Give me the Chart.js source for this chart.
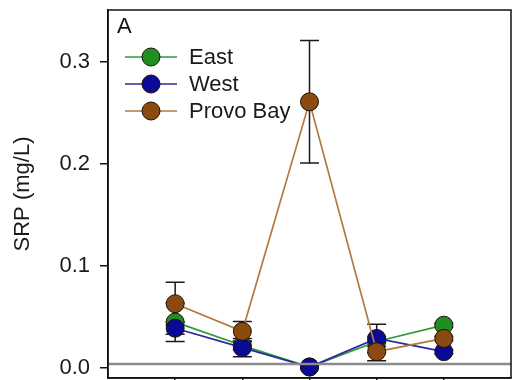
<!DOCTYPE html>
<html>
<head>
<meta charset="utf-8">
<script src="https://cdn.jsdelivr.net/npm/chart.js@4.4.0/dist/chart.umd.min.js"></script>
<style>
  html, body { margin: 0; padding: 0; background: #fff; }
  #wrap { width: 513px; height: 380px; }
</style>
</head>
<body>
<div id="wrap"><canvas id="c" width="513" height="380"></canvas></div>
<script>
// Sampling stations along the x axis (positions 1..5)
const stations = [1, 2, 3, 4, 5];

// Soluble reactive phosphorus, mean per station (mg/L)
const eastSRP  = [0.045, 0.022, 0.001, 0.026, 0.042];
const westSRP  = [0.039, 0.020, 0.001, 0.029, 0.016];
const provoSRP = [0.063, 0.036, 0.261, 0.016, 0.029];

// Standard errors (mg/L)
const eastErr  = [0.019, 0.004, 0.001, 0.005, 0.002];
const westErr  = [0.006, 0.009, 0.001, 0.014, 0.002];
const provoErr = [0.021, 0.0095, 0.060, 0.009, 0.002];

// Y axis tick values
const yTicks = [0.0, 0.1, 0.2, 0.3];

// Detection limit reference line (mg/L)
const detectionLimit = 0.004;

const seriesNames = ['East', 'West', 'Provo Bay'];
const FONT = '"Liberation Sans", Arial, sans-serif';

function pts(vals) { return stations.map((x, i) => ({ x: x, y: vals[i] })); }

const series = [
  { name: seriesNames[0], vals: eastSRP,  err: eastErr,  fill: '#1f8f22', line: '#2e9a35', order: 2 },
  { name: seriesNames[1], vals: westSRP,  err: westErr,  fill: '#0a0a96', line: '#2a2aa0', order: 1 },
  { name: seriesNames[2], vals: provoSRP, err: provoErr, fill: '#8a4a10', line: '#b07a40', order: 0 }
];

const datasets = series.map(s => ({
  label: s.name,
  data: pts(s.vals),
  borderColor: s.line,
  borderWidth: 1.7,
  pointBackgroundColor: s.fill,
  pointBorderColor: '#1a1208',
  pointBorderWidth: 1,
  pointRadius: 9,
  pointHoverRadius: 9,
  tension: 0,
  order: s.order,
  errs: s.err
}));

// Vertical error bars with caps, drawn beneath the markers
const errorBars = {
  id: 'errorBars',
  beforeDatasetsDraw(chart) {
    const { ctx, scales: { x, y } } = chart;
    ctx.save();
    ctx.strokeStyle = '#1a1a1a';
    ctx.lineWidth = 1.5;
    chart.data.datasets.forEach(ds => {
      ds.data.forEach((p, i) => {
        const e = ds.errs[i];
        const px = x.getPixelForValue(p.x);
        const yt = y.getPixelForValue(p.y + e);
        const yb = y.getPixelForValue(p.y - e);
        ctx.beginPath();
        ctx.moveTo(px, yt); ctx.lineTo(px, yb);
        ctx.moveTo(px - 9.5, yt); ctx.lineTo(px + 9.5, yt);
        ctx.moveTo(px - 9.5, yb); ctx.lineTo(px + 9.5, yb);
        ctx.stroke();
      });
    });
    ctx.restore();
  }
};

// Detection-limit line, frame, panel letter and legend
const overlay = {
  id: 'overlay',
  afterDatasetsDraw(chart) {
    const { ctx, chartArea: a, scales: { y } } = chart;
    ctx.save();
    const yl = y.getPixelForValue(detectionLimit);
    ctx.strokeStyle = '#8c8c8c';
    ctx.lineWidth = 2.5;
    ctx.beginPath();
    ctx.moveTo(a.left, yl); ctx.lineTo(a.right, yl);
    ctx.stroke();

    ctx.strokeStyle = '#111';
    ctx.lineWidth = 1.5;
    ctx.strokeRect(a.left, a.top, a.right - a.left, a.bottom - a.top);

    ctx.fillStyle = '#111';
    ctx.font = '22px ' + FONT;
    ctx.textAlign = 'left';
    ctx.textBaseline = 'middle';
    ctx.fillText('A', a.left + 9, a.top + 17);

    const rows = [a.top + 47, a.top + 74, a.top + 101];
    series.forEach((s, i) => {
      const yy = rows[i];
      ctx.strokeStyle = s.line;
      ctx.lineWidth = 1.7;
      ctx.beginPath();
      ctx.moveTo(a.left + 17, yy); ctx.lineTo(a.left + 69, yy);
      ctx.stroke();
      ctx.beginPath();
      ctx.arc(a.left + 43, yy, 9, 0, Math.PI * 2);
      ctx.fillStyle = s.fill;
      ctx.fill();
      ctx.strokeStyle = '#1a1208';
      ctx.lineWidth = 1;
      ctx.stroke();
      ctx.fillStyle = '#1a1a1a';
      ctx.fillText(s.name, a.left + 81, yy + 1);
    });
    ctx.restore();
  }
};

new Chart(document.getElementById('c'), {
  type: 'line',
  data: { datasets: datasets },
  options: {
    responsive: false,
    animation: false,
    layout: { autoPadding: false, padding: { top: 10, right: 2, bottom: 0, left: 0 } },
    plugins: { legend: { display: false }, tooltip: { enabled: false } },
    scales: {
      x: {
        type: 'linear',
        min: 0, max: 6,
        afterBuildTicks(axis) { axis.ticks = stations.map(v => ({ value: v })); },
        afterFit(axis) {
          axis.height = 2;
          axis.paddingLeft = 0; axis.paddingRight = 0;
        },
        ticks: { display: false },
        grid: { drawOnChartArea: false, drawTicks: true, tickLength: 2, color: '#111', lineWidth: 1.5 },
        border: { display: true, color: '#111', width: 1.5 }
      },
      y: {
        type: 'linear',
        min: -0.0098, max: 0.351,
        afterBuildTicks(axis) { axis.ticks = yTicks.map(v => ({ value: v })); },
        afterFit(axis) {
          axis.width = 108;
          axis.paddingTop = 0; axis.paddingBottom = 0;
        },
        ticks: {
          padding: 10,
          color: '#1a1a1a',
          font: { family: FONT, size: 22 },
          callback: v => v.toFixed(1)
        },
        grid: { drawOnChartArea: false, drawTicks: true, tickLength: 8, color: '#111', lineWidth: 1.5 },
        border: { display: true, color: '#111', width: 1.5 },
        title: {
          display: true,
          text: 'SRP (mg/L)',
          color: '#1a1a1a',
          font: { family: FONT, size: 22 },
          padding: { top: 10, bottom: 0 }
        }
      }
    }
  },
  plugins: [errorBars, overlay]
});
</script>
</body>
</html>
